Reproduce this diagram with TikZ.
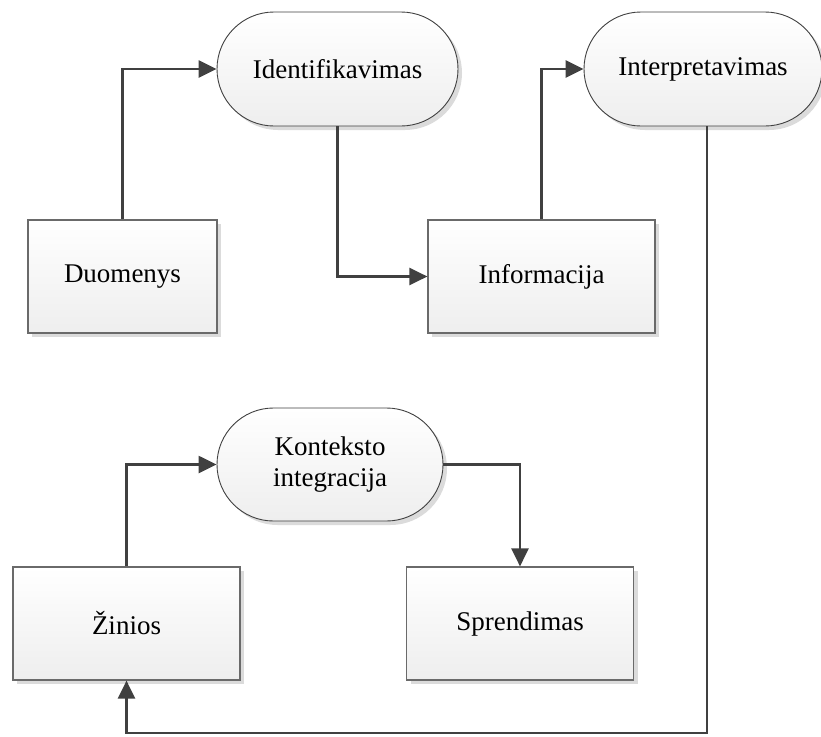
\documentclass[tikz,border=0pt]{standalone}
\usepackage{fontspec}
\setmainfont{Liberation Serif}
\usetikzlibrary{arrows.meta,shapes.misc,shadows}

\definecolor{linkgray}{HTML}{404040}
\definecolor{edgegray}{HTML}{6A6A6A}
\definecolor{fillbottom}{HTML}{EEEEEE}

\tikzset{
  boxbase/.style={
    top color=white, bottom color=fillbottom,
    drop shadow={shadow xshift=4pt, shadow yshift=-4pt, fill=black!14, opacity=1},
    font=\fontsize{27}{31}\selectfont, align=center, inner sep=0pt
  },
  databox/.style={boxbase, rectangle, draw=edgegray, line width=1.2pt,
    minimum width=227pt, minimum height=113pt},
  procbox/.style={boxbase, rounded rectangle, draw=linkgray, line width=0.9pt,
    minimum width=241pt, minimum height=114pt},
  link/.style={draw=linkgray, line width=2.5pt,
    -{Triangle[length=18pt,width=17pt]}}
}

\begin{document}
\begin{tikzpicture}[x=1pt,y=-1pt]
  \useasboundingbox (0,0) rectangle (821,736);

  % data / result blocks
  \node[databox, minimum width=189pt] (duom) at (122.5,276.5) {Duomenys};
  \node[databox] (info) at (541.5,276.5) {Informacija};
  \node[databox] (zin)  at (126.5,623.5) {Žinios};
  \node[databox] (spr)  at (520,623.5)   {Sprendimas};

  % processing steps
  \node[procbox] (ident)  at (337.5,69) {Identifikavimas};
  \node[procbox, minimum width=238pt] (interp) at (703,69) {Interpretavimas};
  \node[procbox, minimum width=226pt, minimum height=113pt] (kont) at (330,464.5)
    {Konteksto\\integracija};

  % corner of the feedback loop along the bottom
  \coordinate (loopR) at (707,733);

  % connectors
  \draw[link] (duom.north) |- (ident.west);
  \draw[link] (ident.south) |- (info.west);
  \draw[link] (info.north) |- (interp.west);
  \draw[link] ([xshift=4pt]interp.south) -- (loopR) -| (zin.south);
  \draw[link] (zin.north) |- (kont.west);
  \draw[link] (kont.east) -| (spr.north);
\end{tikzpicture}
\end{document}
